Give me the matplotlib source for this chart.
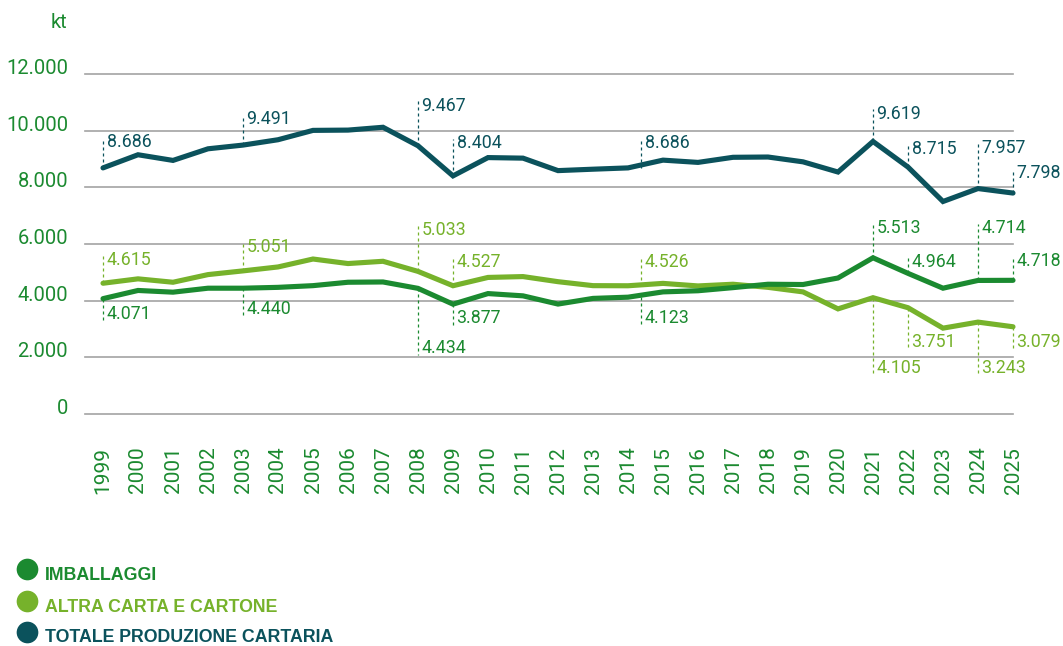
import matplotlib
matplotlib.use("Agg")
import matplotlib.pyplot as plt
from matplotlib.lines import Line2D

# ---------------- data ----------------
years = list(range(1999, 2026))
imballaggi = [4071, 4360, 4300, 4440, 4440, 4470, 4530, 4650, 4660, 4434,
              3877, 4250, 4170, 3880, 4080, 4123, 4310, 4350, 4460, 4580,
              4570, 4800, 5513, 4964, 4440, 4714, 4718]
altra_carta = [4615, 4770, 4650, 4920, 5051, 5190, 5470, 5310, 5390, 5033,
               4527, 4820, 4850, 4670, 4530, 4526, 4610, 4520, 4580, 4470,
               4310, 3710, 4105, 3751, 3030, 3243, 3079]
totale = [8686, 9150, 8950, 9360, 9491, 9680, 10010, 10020, 10120, 9467,
          8404, 9050, 9030, 8590, 8640, 8686, 8960, 8880, 9060, 9070,
          8900, 8540, 9619, 8715, 7500, 7957, 7798]
series_names = ["IMBALLAGGI", "ALTRA CARTA E CARTONE", "TOTALE PRODUZIONE CARTARIA"]
y_ticks = [0, 2000, 4000, 6000, 8000, 10000, 12000]
unit_label = "kt"
label_years = [1999, 2003, 2008, 2009, 2014, 2021, 2022, 2024, 2025]

# ---------------- style ----------------
C_IMB = "#1b8a30"
C_ALT = "#76b22b"
C_TOT = "#0b525c"
C_GRID = "#a3a3a3"
C_AXIS = "#1b8a30"

# label placement (pixels; + above the point, - below)
off_tot = [25.6, 25.8, 40, 32.6, 24.6, 27.5, 18.5, 40.3, 19.8]
off_alt = [23.2, 23.6, 41.4, 24, 24, -70.6, -34, -46.2, -14.9]
off_imb = [-15.3, -20.8, -60, -14.1, -21.1, 29.5, 11.7, 52, 19.6]
label_dx = [0, 0, 0, 0, 13, 0, 0, 0, 0]

plt.rcParams['font.family'] = ['Roboto', 'DejaVu Sans']

W, H = 1063, 646
fig = plt.figure(figsize=(W / 100, H / 100), dpi=100)
fig.patch.set_facecolor("white")

ax_l, ax_r, ax_t, ax_b = 85, 1013, 74, 414
ax = fig.add_axes([ax_l / W, 1 - ax_b / H, (ax_r - ax_l) / W, (ax_b - ax_t) / H])
x0_px, dx_px = 103, 35.0
ax.set_xlim((ax_l - x0_px) / dx_px, (ax_r - x0_px) / dx_px)
ax.set_ylim(0, 12000)
for s in ax.spines.values():
    s.set_visible(False)

xs = list(range(len(years)))

ax.set_yticks(y_ticks)
ax.set_yticklabels([f"{v:,}".replace(",", ".") for v in y_ticks])
ax.yaxis.grid(True, color=C_GRID, linewidth=1.2)
for gl in ax.get_ygridlines():
    gl.set_clip_on(False)
ax.set_axisbelow(True)
ax.tick_params(axis='y', length=0, pad=12.2, labelsize=14.5, labelcolor=C_AXIS)
for lab in ax.get_yticklabels():
    lab.set_va('baseline')

ax.set_xticks(xs)
ax.set_xticklabels([str(y) for y in years], rotation=90)
ax.tick_params(axis='x', length=0, pad=23.5, labelsize=15, labelcolor=C_AXIS)

lw = 3.7
ax.plot(xs, altra_carta, color=C_ALT, lw=lw, solid_capstyle='round',
        solid_joinstyle='miter', clip_on=False, zorder=3)
ax.plot(xs, imballaggi, color=C_IMB, lw=lw, solid_capstyle='round',
        solid_joinstyle='miter', clip_on=False, zorder=4)
ax.plot(xs, totale, color=C_TOT, lw=lw, solid_capstyle='round',
        solid_joinstyle='miter', clip_on=False, zorder=5)

# data labels
units_per_px = 12000 / (ax_b - ax_t)
def fmt(v):
    return f"{v:,}".replace(",", ".")

for vals, offs, col in [(totale, off_tot, C_TOT), (altra_carta, off_alt, C_ALT),
                        (imballaggi, off_imb, C_IMB)]:
    for yr, off, ddx in zip(label_years, offs, label_dx):
        i = years.index(yr)
        v = vals[i]
        xl = i + ddx / dx_px
        ext = off + 4.5 if off > 0 else off - 6.5
        ax.plot([xl, xl], [v, v + ext * units_per_px], color=col, lw=0.9,
                linestyle=(0, (2.4, 2.4)), clip_on=False, zorder=2)
        ax.annotate(fmt(v), xy=(xl, v), xytext=(3.5 * 0.72, off * 0.72),
                    textcoords='offset points', ha='left', va='center',
                    fontsize=12.8, color=col, zorder=6, annotation_clip=False)

# unit label
fig.text(67 / W, 1 - 22 / H, unit_label, ha='right', va='center',
         fontsize=14.5, color=C_AXIS)

# legend
leg_cols = [C_IMB, C_ALT, C_TOT]
circ_y = [568.5, 600.5, 632]
text_base = [580, 611.5, 642.5]
for name, col, cy, ty in zip(series_names, leg_cols, circ_y, text_base):
    fig.add_artist(Line2D([27.3 / W], [1 - cy / H], marker='o', markersize=15.6,
                          color=col, markeredgewidth=0, linestyle='none',
                          transform=fig.transFigure))
    fig.text(45 / W, 1 - ty / H, name, ha='left', va='baseline',
             fontsize=12.8, fontweight='bold', color=col,
             family=['Liberation Sans', 'DejaVu Sans'])

fig.savefig("out.png", dpi=100, facecolor="white")
